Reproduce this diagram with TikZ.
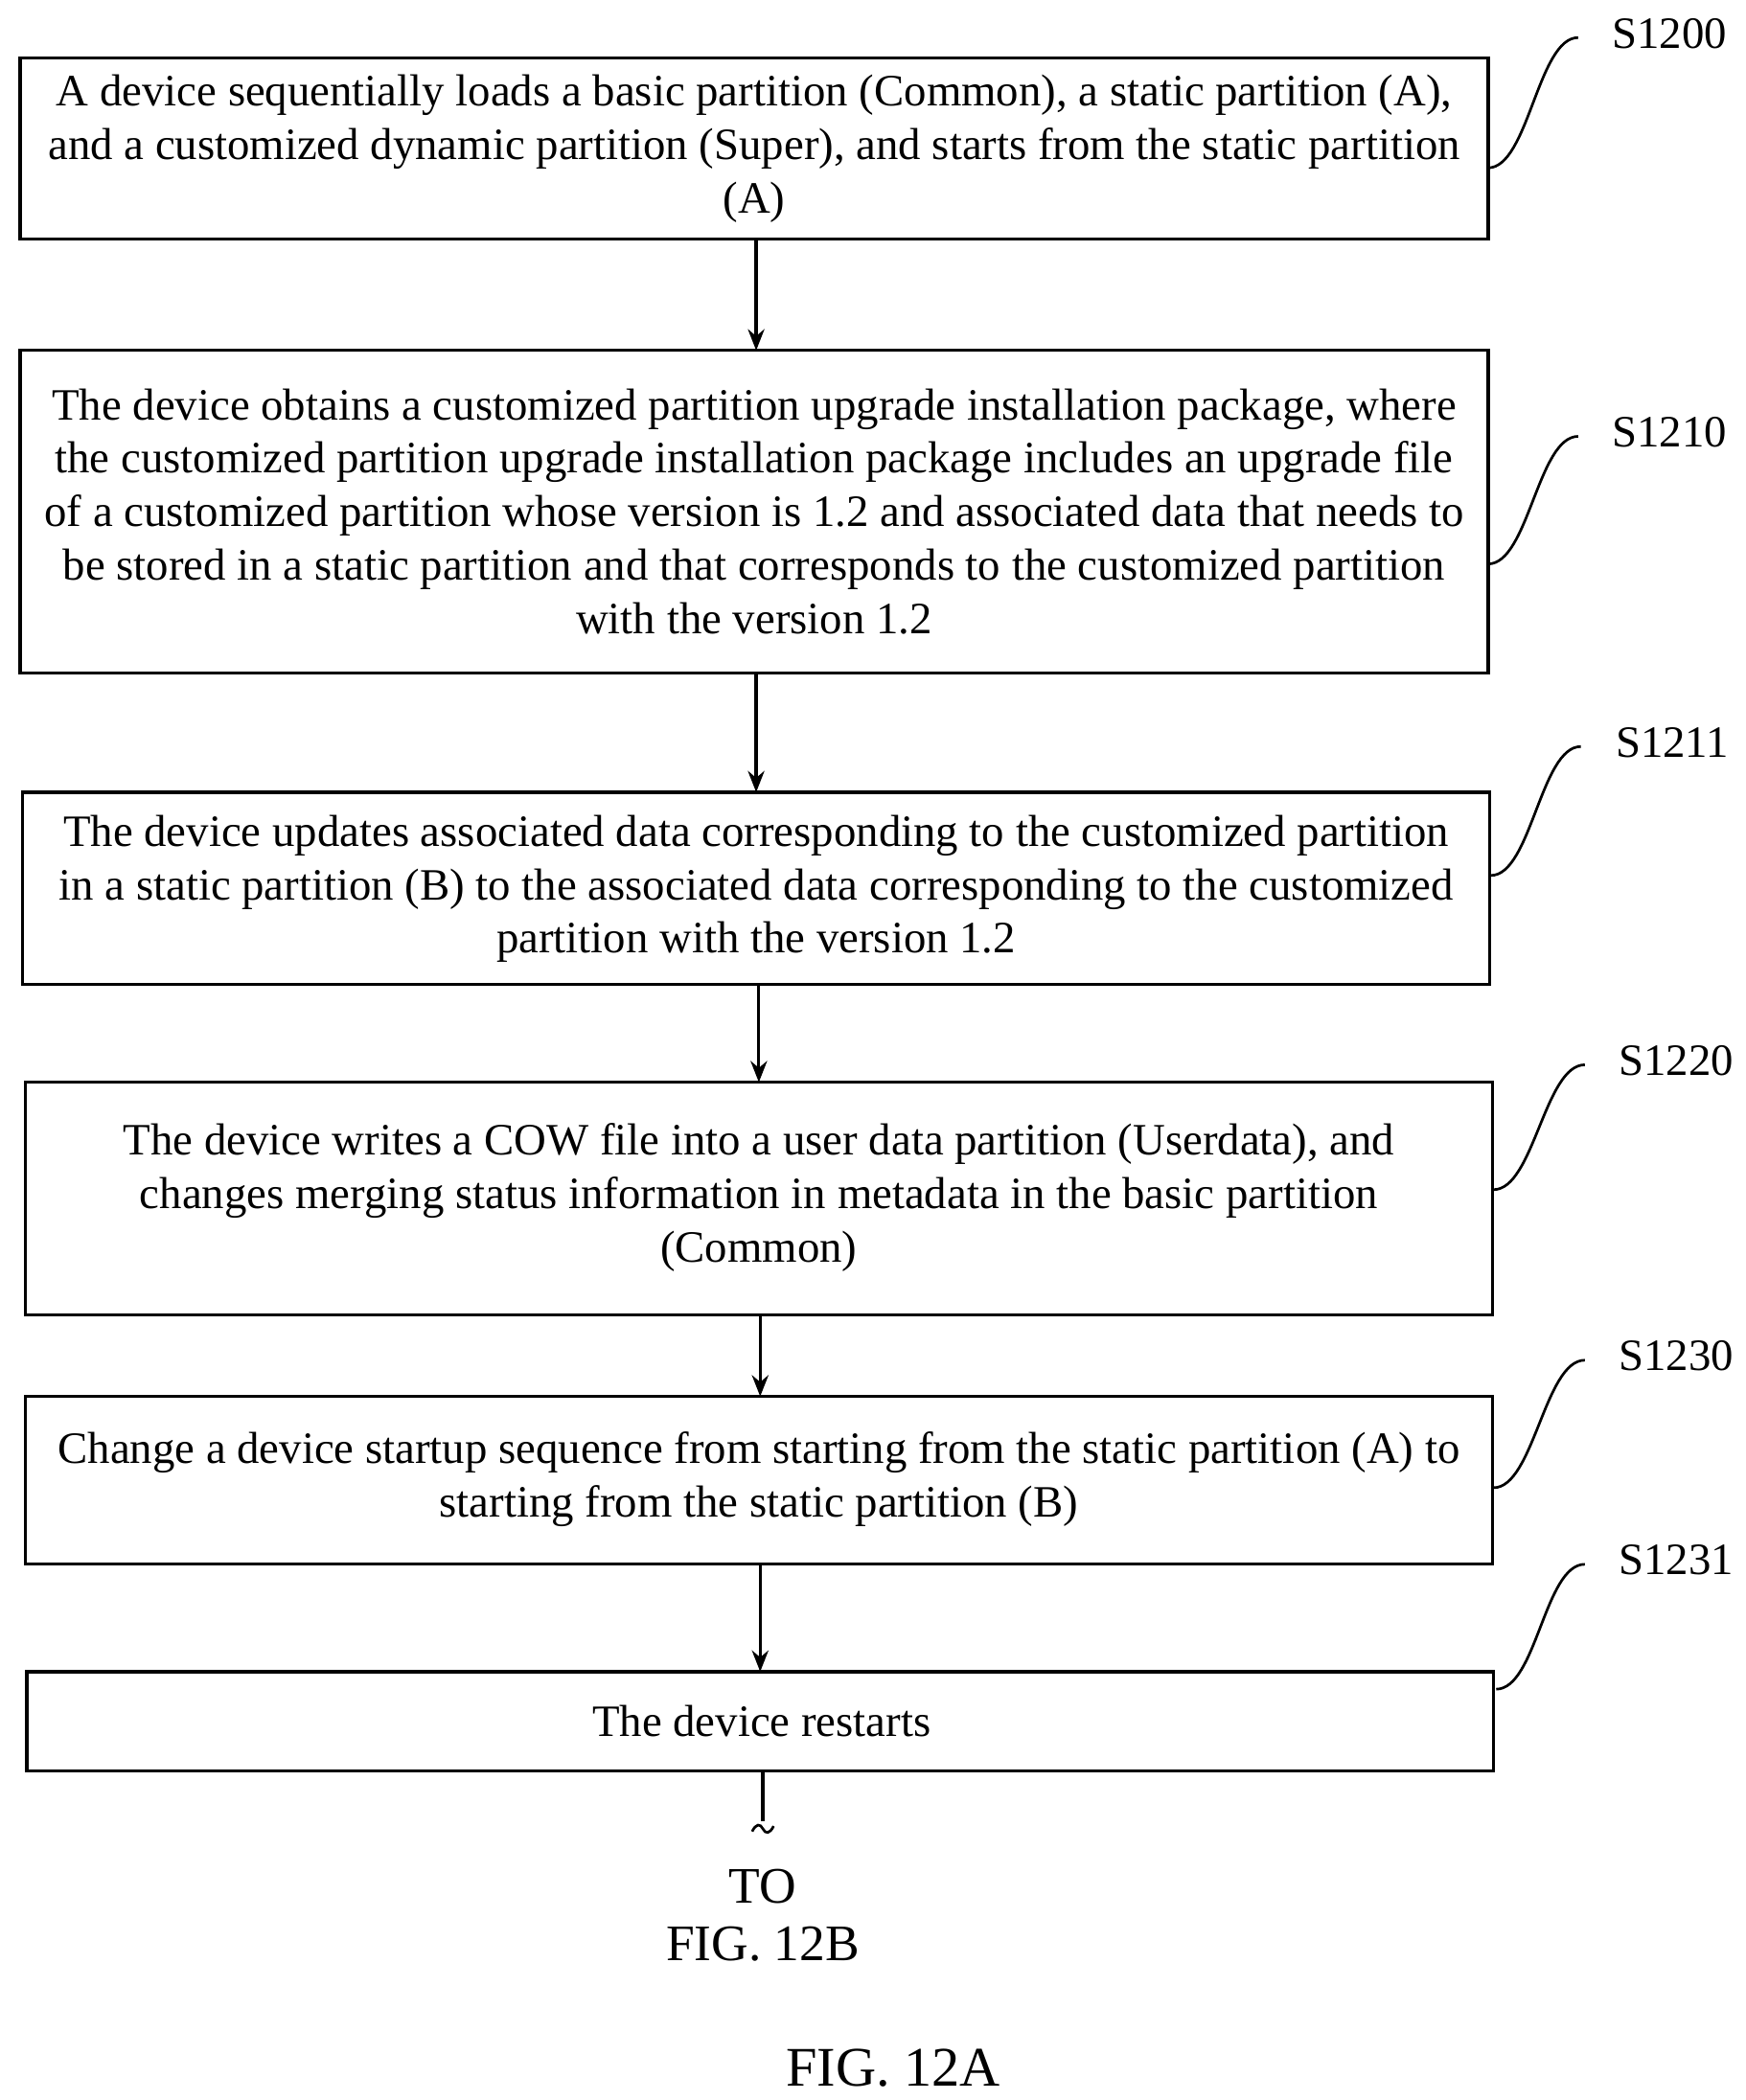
\documentclass[tikz,border=0pt]{standalone}
\usepackage{fontspec}
\setmainfont{Liberation Serif}
\usetikzlibrary{arrows.meta,calc}
\begin{document}
\begin{tikzpicture}[x=0.02cm,y=-0.02cm,
  box/.style={align=center,font=\fontsize{19}{22.7}\selectfont},
  frame/.style={line width=1.3pt},
  lab/.style={font=\fontsize{19}{22.7}\selectfont,anchor=center},
  arr/.style={-{Stealth[length=9pt,width=7pt]},line width=1.3pt},
  lead/.style={line width=1.1pt}]
\useasboundingbox (0,0) rectangle (1300,1564);
\draw[frame] (15,43) rectangle (1108,178);
\node[box] (b1) at (561.5,110.5) {A device sequentially loads a basic partition (Common), a static partition (A),\\ and a customized dynamic partition (Super), and starts from the static partition\\ (A)};
\draw[frame] (15,261) rectangle (1108,501);
\node[box] (b2) at (561.5,381) {The device obtains a customized partition upgrade installation package, where\\ the customized partition upgrade installation package includes an upgrade file\\ of a customized partition whose version is 1.2 and associated data that needs to\\ be stored in a static partition and that corresponds to the customized partition\\ with the version 1.2};
\draw[frame] (17,590) rectangle (1109,733);
\node[box] (b3) at (563,662) {The device updates associated data corresponding to the customized partition\\ in a static partition (B) to the associated data corresponding to the customized\\ partition with the version 1.2};
\draw[frame] (19,806) rectangle (1111,979);
\node[box] (b4) at (565,892) {The device writes a COW file into a user data partition (Userdata), and\\ changes merging status information in metadata in the basic partition\\ (Common)};
\draw[frame] (19,1040) rectangle (1111,1165);
\node[box] (b5) at (565,1102) {Change a device startup sequence from starting from the static partition (A) to\\ starting from the static partition (B)};
\draw[frame] (20,1245) rectangle (1112,1319);
\node[box] (b6) at (567,1282) {The device restarts};
\coordinate (a1s) at (563,178); \coordinate (a1e) at (563,261);
\coordinate (a2s) at (563,501); \coordinate (a2e) at (563,590);
\coordinate (a3s) at (565,733); \coordinate (a3e) at (565,806);
\coordinate (a4s) at (566,979); \coordinate (a4e) at (566,1040);
\coordinate (a5s) at (566,1165); \coordinate (a5e) at (566,1245);
\draw[arr] (a1s) -- (a1e);
\draw[arr] (a2s) -- (a2e);
\draw[arr] (a3s) -- (a3e);
\draw[arr] (a4s) -- (a4e);
\draw[arr] (a5s) -- (a5e);
\coordinate (c0) at (568,1320); \coordinate (c1) at (568,1356);
\draw[line width=1.3pt] (c0) -- (c1);
\draw[line width=1.1pt] (560,1364) .. controls (563,1358) and (566,1358) .. (568,1362) .. controls (570,1366) and (573,1366) .. (576,1360);
\node[font=\fontsize{21.7}{26}\selectfont] (to) at (568,1405) {TO};
\node[font=\fontsize{21.7}{26}\selectfont] (fb) at (568,1448) {FIG. 12B};
\node[font=\fontsize{23.7}{28}\selectfont] (fa) at (665,1540) {FIG. 12A};
\foreach \n/\bx/\by/\lx/\ly/\t in {s0/1108/125/1175/28/S1200, s1/1108/420/1175/325/S1210, s2/1110/652/1177/556/S1211, s3/1112/886/1180/793/S1220, s4/1112/1108/1180/1013/S1230, s5/1114/1258/1180/1165/S1231}{
  \coordinate (\n a) at (\bx,\by);
  \coordinate (\n b) at (\lx,\ly);
  \draw[lead] (\n a) .. controls ($(\n a)+(30,0)$) and ($(\n b)+(-30,0)$) .. (\n b);
  \node[lab] (\n) at ($(\n b)+(68,-3)$) {\t};
}
\end{tikzpicture}
\end{document}
